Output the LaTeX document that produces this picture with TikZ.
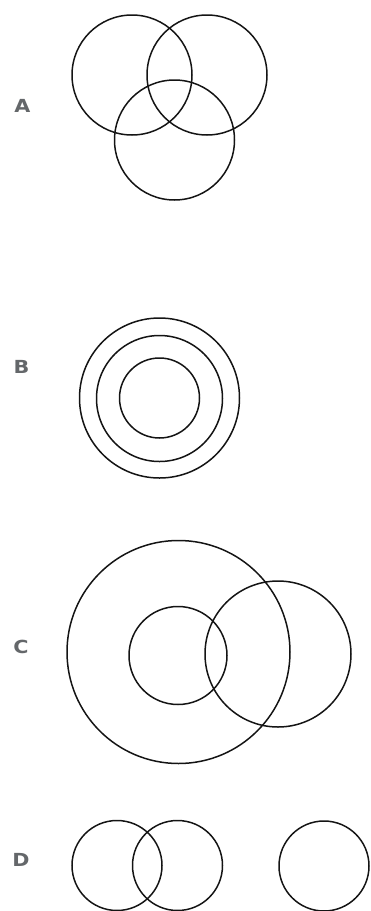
\documentclass[tikz,border=0pt]{standalone}
\usepackage{fontspec}
\setmainfont{DejaVu Sans}
\definecolor{labelgray}{RGB}{100,103,106}
\definecolor{ringcol}{RGB}{20,20,20}
\begin{document}
\begin{tikzpicture}[x=1pt,y=-1pt,
  ring/.style={draw=ringcol,line width=1.5pt,fill=none},
  lbl/.style={text=labelgray,font=\bfseries\fontsize{18}{18}\selectfont,inner sep=0pt,xscale=1.15}]
\useasboundingbox (0,0) rectangle (370,911);
% A
\node[lbl] (la) at (22.5,105.5) {A};
\draw[ring] (132,75) circle (60);
\draw[ring] (207,75) circle (60);
\draw[ring] (174.5,140) circle (60);
% B
\node[lbl] (lb) at (21.5,367) {B};
\draw[ring] (159.5,398) circle (80);
\draw[ring] (159.5,398.5) circle (63);
\draw[ring] (159.5,398) circle (40);
% C
\node[lbl] (lc) at (21,647) {C};
\draw[ring] (178.5,652) circle (111.5);
\draw[ring] (178,655.5) circle (49);
\draw[ring] (278,654) circle (73);
% D
\node[lbl] (ld) at (21,860) {D};
\draw[ring] (117,865.5) circle (45);
\draw[ring] (177.5,865.5) circle (45);
\draw[ring] (324,866) circle (45);
\end{tikzpicture}
\end{document}
